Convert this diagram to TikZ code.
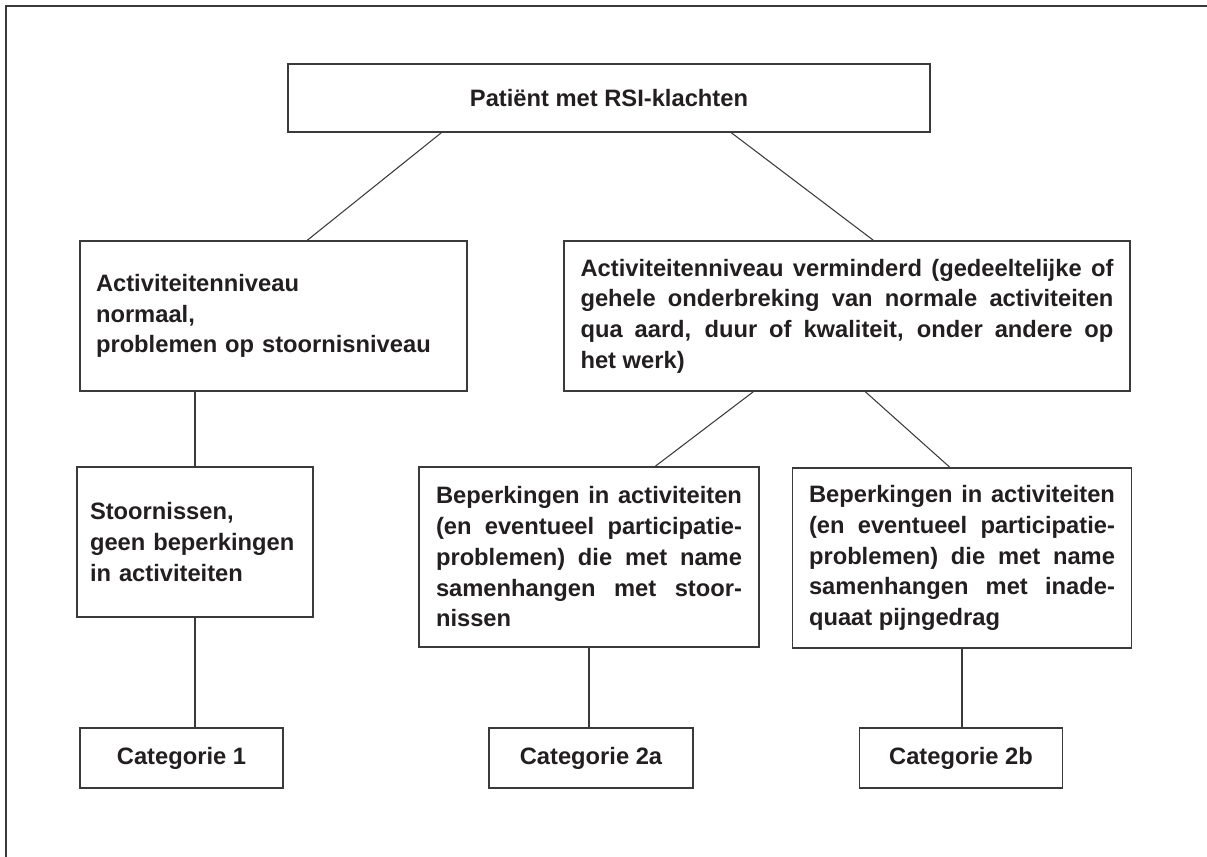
\documentclass[tikz,border=0pt]{standalone}
\usepackage{fontspec}
\setmainfont{Liberation Sans}
\usepackage{tikz}
\usetikzlibrary{calc,positioning}
\definecolor{boxline}{HTML}{3A3A3A}
\definecolor{inkdark}{HTML}{231F20}
\tolerance=9999
\hbadness=10000

\begin{document}
\begin{tikzpicture}[x=0.02cm,y=-0.02cm,
box/.style = {draw=boxline, line width=0.85pt, inner sep=0pt, text=inkdark, font=\bfseries\fontsize{13.5}{17.5}\selectfont},
conn/.style = {draw=boxline, line width=0.6pt},
frame/.style = {draw=boxline, line width=1.1pt},]
\useasboundingbox (0,0) rectangle (1207,857);
\draw[frame] (6,857)--(6,6)--(1207,6);
\node (pat) at (609,98)[box,minimum width=12.84cm,minimum height=1.36cm] {Patiënt met RSI-klachten};
\node (normaal) at (273.5,316)[box,minimum width=7.74cm,minimum height=3cm,text width=7.1cm,align=left] {Activiteitenniveau\\ normaal,\\ problemen op stoornisniveau};
\node (verm) at (847,316)[box,minimum width=11.32cm,minimum height=3cm,text width=10.66cm,align=justify] {Activiteitenniveau verminderd (gedeeltelijke of\linebreak gehele onderbreking van normale activiteiten\linebreak qua aard, duur of kwaliteit, onder andere op\linebreak het werk)};
\node (stoor) at (195,542)[box,minimum width=4.72cm,minimum height=3cm,text width=4.2cm,align=left] {Stoornissen,\\ geen beperkingen\\ in activiteiten};
\node (bep2a) at (589,557)[box,minimum width=6.8cm,minimum height=3.6cm,text width=6.12cm,align=justify] {Beperkingen in activiteiten\linebreak (en eventueel participatie-\linebreak problemen) die met name\linebreak samenhangen met stoor-\linebreak nissen};
\node (bep2b) at (962,558)[box,minimum width=6.78cm,minimum height=3.6cm,text width=6.12cm,align=justify] {Beperkingen in activiteiten\linebreak (en eventueel participatie-\linebreak problemen) die met name\linebreak samenhangen met inade-\linebreak quaat pijngedrag};
\node (cat1) at (181.5,758)[box,minimum width=4.06cm,minimum height=1.2cm] {Categorie 1};
\node (cat2a) at (591,758)[box,minimum width=4.08cm,minimum height=1.2cm] {Categorie 2a};
\node (cat2b) at (961,758)[box,minimum width=4.06cm,minimum height=1.2cm] {Categorie 2b};
\draw[conn] ($(pat.south west)+(154,0)$)--($(normaal.north west)+(228,0)$);
\draw[conn] ($(pat.south west)+(444,0)$)--($(verm.north west)+(310,0)$);
\draw[conn] (normaal.south -| stoor.north)--(stoor.north);
\draw[conn] ($(verm.south west)+(190,0)$)--($(bep2a.north west)+(237,0)$);
\draw[conn] ($(verm.south west)+(302,0)$)--($(bep2b.north west)+(158,0)$);
\draw[conn] (stoor.south)--(stoor.south |- cat1.north);
\draw[conn] (bep2a.south)--(bep2a.south |- cat2a.north);
\draw[conn] (bep2b.south)--(bep2b.south |- cat2b.north);
\end{tikzpicture}
\end{document}
